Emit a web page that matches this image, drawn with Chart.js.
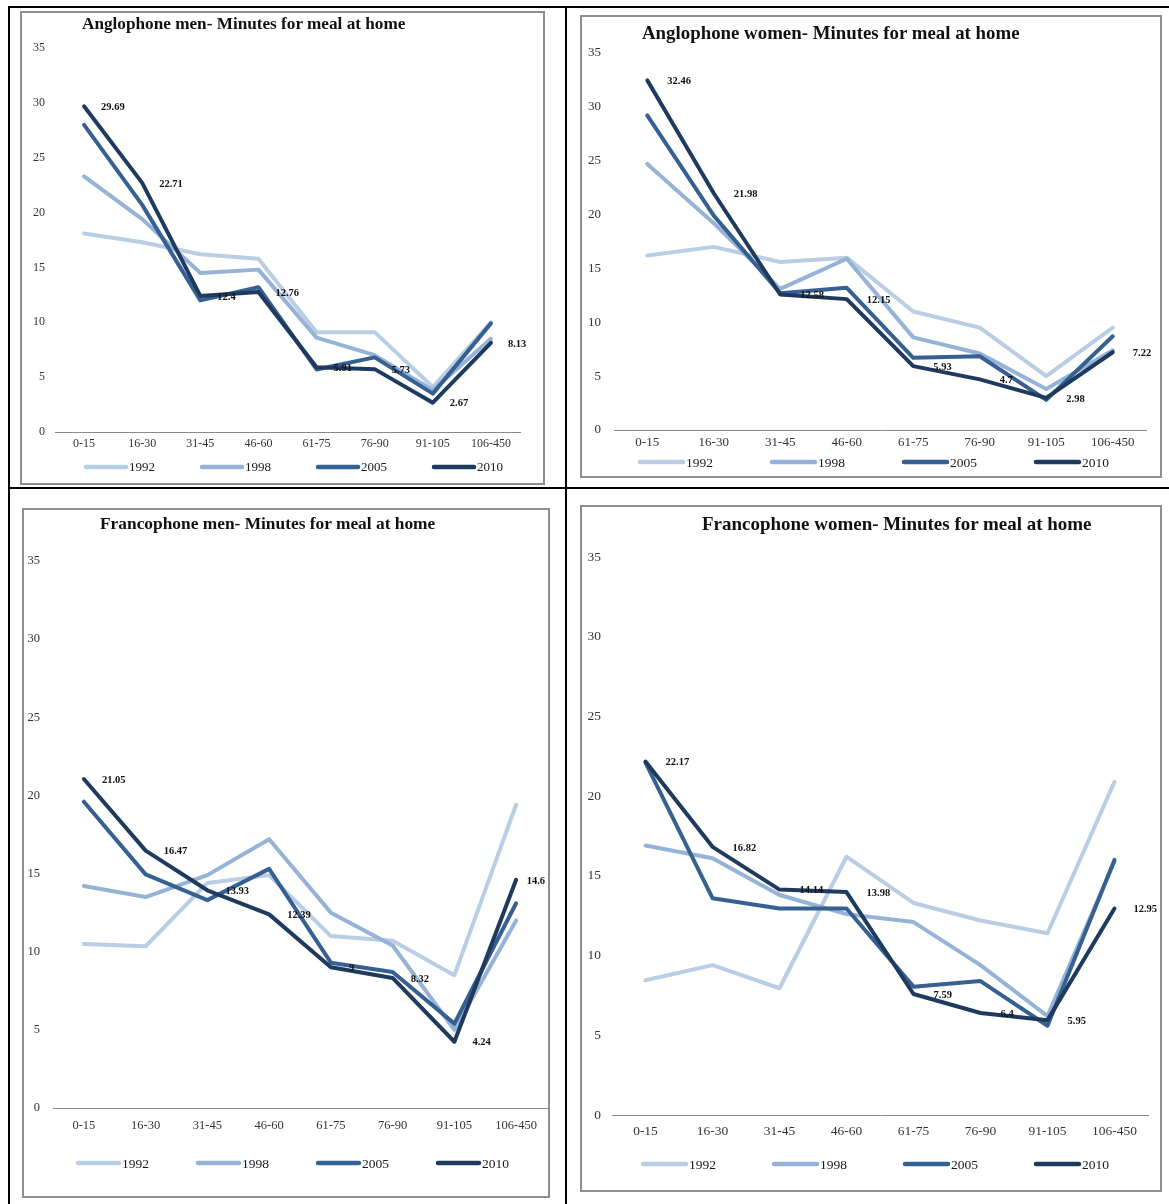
<!DOCTYPE html>
<html>
<head>
<meta charset="utf-8">
<script src="https://cdn.jsdelivr.net/npm/chart.js@4.4.1/dist/chart.umd.min.js"></script>
<style>
  html, body { margin: 0; padding: 0; background: #fff; }
  body { width: 1169px; height: 1204px; position: relative; overflow: hidden;
         font-family: 'Liberation Serif', 'Times New Roman', serif; }
  .rule { position: absolute; background: #000; }
  .panel { position: absolute; box-sizing: border-box; border: 2px solid #8e8e8e; background: #fff; }
  .panel canvas { position: absolute; left: 0; top: 0; }
  .title { position: absolute; white-space: nowrap; font-weight: bold; color: #111; line-height: 1; }
</style>
</head>
<body>
<!-- table rules -->
<div class="rule" style="left:8px;top:6px;width:1161px;height:2px"></div>
<div class="rule" style="left:8px;top:6px;width:2px;height:1198px"></div>
<div class="rule" style="left:565px;top:6px;width:2px;height:1198px"></div>
<div class="rule" style="left:8px;top:487px;width:1161px;height:2px"></div>

<script>
// Age groups (minutes) on the x axis
const ageGroups = ['0-15', '16-30', '31-45', '46-60', '61-75', '76-90', '91-105', '106-450'];
// Survey years, one line each
const surveyYears = ['1992', '1998', '2005', '2010'];
// Y axis range and step (minutes)
const yAxisMin = 0;
const yAxisMax = 35;
const yAxisStep = 5;

// Anglophone men
const angloMen1992 = [18.1, 17.3, 16.2, 15.8, 9.1, 9.1, 4.1, 10.0];
const angloMen1998 = [23.3, 19.4, 14.5, 14.8, 8.6, 7.0, 3.8, 8.5];
const angloMen2005 = [28.0, 20.7, 12.0, 13.2, 5.7, 6.8, 3.5, 9.9];
const angloMen2010 = [29.69, 22.71, 12.4, 12.76, 5.91, 5.73, 2.67, 8.13];

// Anglophone women
const angloWomen1992 = [16.2, 17.0, 15.6, 16.0, 11.0, 9.5, 5.0, 9.5];
const angloWomen1998 = [24.7, 19.2, 13.1, 15.9, 8.6, 7.1, 3.8, 7.4];
const angloWomen2005 = [29.2, 19.9, 12.7, 13.2, 6.7, 6.85, 2.8, 8.7];
const angloWomen2010 = [32.46, 21.98, 12.58, 12.15, 5.93, 4.7, 2.98, 7.22];

// Francophone men
const francoMen1992 = [10.5, 10.35, 14.4, 14.9, 11.0, 10.7, 8.5, 19.4];
const francoMen1998 = [14.2, 13.5, 14.9, 17.2, 12.5, 10.4, 5.0, 12.0];
const francoMen2005 = [19.6, 14.95, 13.3, 15.3, 9.3, 8.7, 5.4, 13.1];
const francoMen2010 = [21.05, 16.47, 13.93, 12.39, 9, 8.32, 4.24, 14.6];

// Francophone women
const francoWomen1992 = [8.45, 9.4, 7.95, 16.2, 13.3, 12.2, 11.4, 20.9];
const francoWomen1998 = [16.9, 16.1, 13.8, 12.6, 12.1, 9.4, 6.2, 15.9];
const francoWomen2005 = [22.1, 13.6, 12.95, 12.95, 8.05, 8.4, 5.6, 16.0];
const francoWomen2010 = [22.17, 16.82, 14.14, 13.98, 7.59, 6.4, 5.95, 12.95];

// ---- styling ----
const SERIF = "'Liberation Serif', 'Times New Roman', serif";
const lineColors = ['#b9cde5', '#95b3d7', '#376092', '#1f3a5f'];
const tickColor = '#333333';

// Geometry of each panel in page pixels: box = grey frame, plot = chart area
const panels = [
  {
    title: 'Anglophone men- Minutes for meal at home',
    titleX: 82, titleY: 24, titleW: 324,
    box: [20, 11, 545, 485], plot: [55, 48, 520, 432],
    series: [angloMen1992, angloMen1998, angloMen2005, angloMen2010],
    tickSize: 12, xPad: 5, yPad: 10,
    legend: { x: 84, y: 467, pitch: 116, sw: 44, size: 13 },
    labelSize: 10.5, labelDx: 17, labelDy: 1
  },
  {
    title: 'Anglophone women- Minutes for meal at home',
    titleX: 642, titleY: 33, titleW: 378,
    box: [580, 15, 1162, 478], plot: [614, 53, 1146, 430],
    series: [angloWomen1992, angloWomen1998, angloWomen2005, angloWomen2010],
    tickSize: 13, xPad: 5, yPad: 13,
    legend: { x: 638, y: 462, pitch: 132, sw: 47, size: 13.5 },
    labelSize: 10.5, labelDx: 20, labelDy: 1
  },
  {
    title: 'Francophone men- Minutes for meal at home',
    titleX: 100, titleY: 524, titleW: 336,
    box: [22, 508, 550, 1198], plot: [53, 561, 547, 1108],
    series: [francoMen1992, francoMen1998, francoMen2005, francoMen2010],
    tickSize: 12.5, xPad: 10, yPad: 13,
    legend: { x: 76, y: 1163, pitch: 120, sw: 45, size: 13.5 },
    labelSize: 10.5, labelDx: 18, labelDy: 1
  },
  {
    title: 'Francophone women- Minutes for meal at home',
    titleX: 702, titleY: 523, titleW: 390,
    box: [580, 505, 1162, 1192], plot: [612, 557, 1148, 1115],
    series: [francoWomen1992, francoWomen1998, francoWomen2005, francoWomen2010],
    tickSize: 13.5, xPad: 8, yPad: 11,
    legend: { x: 641, y: 1164, pitch: 131, sw: 47, size: 13.5 },
    labelSize: 10.5, labelDx: 20, labelDy: 1
  }
];

// Value labels for the latest survey year, set to the right of each point
// and kept inside the frame
function valueLabelPlugin(p) {
  return {
    id: 'valueLabels',
    afterDatasetsDraw(chart) {
      const idx = chart.data.datasets.length - 1;
      const ds = chart.data.datasets[idx];
      const meta = chart.getDatasetMeta(idx);
      const ctx = chart.ctx;
      ctx.save();
      ctx.font = `bold ${p.labelSize}px ${SERIF}`;
      ctx.fillStyle = '#111';
      ctx.textAlign = 'left';
      ctx.textBaseline = 'middle';
      meta.data.forEach((pt, i) => {
        const text = String(ds.data[i]);
        const w = ctx.measureText(text).width;
        const x = Math.min(pt.x + p.labelDx, chart.width - 3 - w);
        ctx.fillText(text, x, pt.y + p.labelDy);
      });
      ctx.restore();
    }
  };
}

// Legend row with line swatches under the axis
function lineLegendPlugin(p, ox, oy) {
  return {
    id: 'lineLegend',
    afterDraw(chart) {
      const ctx = chart.ctx;
      const L = p.legend;
      ctx.save();
      chart.data.datasets.forEach((ds, i) => {
        const x = L.x - ox + i * L.pitch;
        const y = L.y - oy;
        ctx.strokeStyle = ds.borderColor;
        ctx.lineWidth = 4.5;
        ctx.lineCap = 'round';
        ctx.beginPath();
        ctx.moveTo(x + 2, y);
        ctx.lineTo(x + L.sw - 2, y);
        ctx.stroke();
        ctx.fillStyle = '#1a1a1a';
        ctx.font = `${L.size}px ${SERIF}`;
        ctx.textAlign = 'left';
        ctx.textBaseline = 'middle';
        ctx.fillText(ds.label, x + L.sw + 1, y + 1);
      });
      ctx.restore();
    }
  };
}

function placeTitle(p) {
  const el = document.createElement('div');
  el.className = 'title';
  el.textContent = p.title;
  const m = document.createElement('canvas').getContext('2d');
  m.font = `bold 100px ${SERIF}`;
  const size = 100 * p.titleW / m.measureText(p.title).width;
  el.style.fontSize = size.toFixed(2) + 'px';
  el.style.left = p.titleX + 'px';
  el.style.top = (p.titleY - size * 0.5).toFixed(1) + 'px';
  document.body.appendChild(el);
}

function buildPanel(p) {
  const [bl, bt, br, bb] = p.box;
  const box = document.createElement('div');
  box.className = 'panel';
  box.style.left = bl + 'px';
  box.style.top = bt + 'px';
  box.style.width = (br - bl) + 'px';
  box.style.height = (bb - bt) + 'px';
  document.body.appendChild(box);

  const cw = br - bl - 4, ch = bb - bt - 4;
  const ox = bl + 2, oy = bt + 2;
  const canvas = document.createElement('canvas');
  canvas.width = cw; canvas.height = ch;
  canvas.style.width = cw + 'px'; canvas.style.height = ch + 'px';
  box.appendChild(canvas);

  const plotL = p.plot[0] - ox, plotT = p.plot[1] - oy;
  const plotR = p.plot[2] - ox, plotB = p.plot[3] - oy;

  new Chart(canvas, {
    type: 'line',
    data: {
      labels: ageGroups,
      datasets: p.series.map((vals, i) => ({
        label: surveyYears[i],
        data: vals,
        borderColor: lineColors[i],
        backgroundColor: lineColors[i],
        borderWidth: 4,
        pointRadius: 0,
        tension: 0,
        fill: false,
        borderJoinStyle: 'round',
        borderCapStyle: 'round',
        order: surveyYears.length - 1 - i
      }))
    },
    options: {
      responsive: false,
      animation: false,
      devicePixelRatio: 1,
      layout: { padding: { left: 0, top: plotT, right: cw - plotR, bottom: 0 } },
      plugins: {
        legend: { display: false },
        title: { display: false },
        tooltip: { enabled: false }
      },
      scales: {
        x: {
          offset: true,
          grid: { display: false, drawTicks: false },
          border: { display: true, color: '#8a8a8a', width: 1 },
          ticks: {
            font: { family: SERIF, size: p.tickSize },
            color: tickColor,
            padding: p.xPad,
            autoSkip: false,
            maxRotation: 0
          },
          afterFit(s) { s.height = ch - plotB; }
        },
        y: {
          min: yAxisMin,
          max: yAxisMax,
          grid: { display: false, drawTicks: false },
          border: { display: false },
          ticks: {
            stepSize: yAxisStep,
            font: { family: SERIF, size: p.tickSize },
            color: tickColor,
            padding: p.yPad
          },
          afterFit(s) { s.width = plotL; }
        }
      }
    },
    plugins: [valueLabelPlugin(p), lineLegendPlugin(p, ox, oy)]
  });
}

panels.forEach(p => { buildPanel(p); placeTitle(p); });
</script>
</body>
</html>
